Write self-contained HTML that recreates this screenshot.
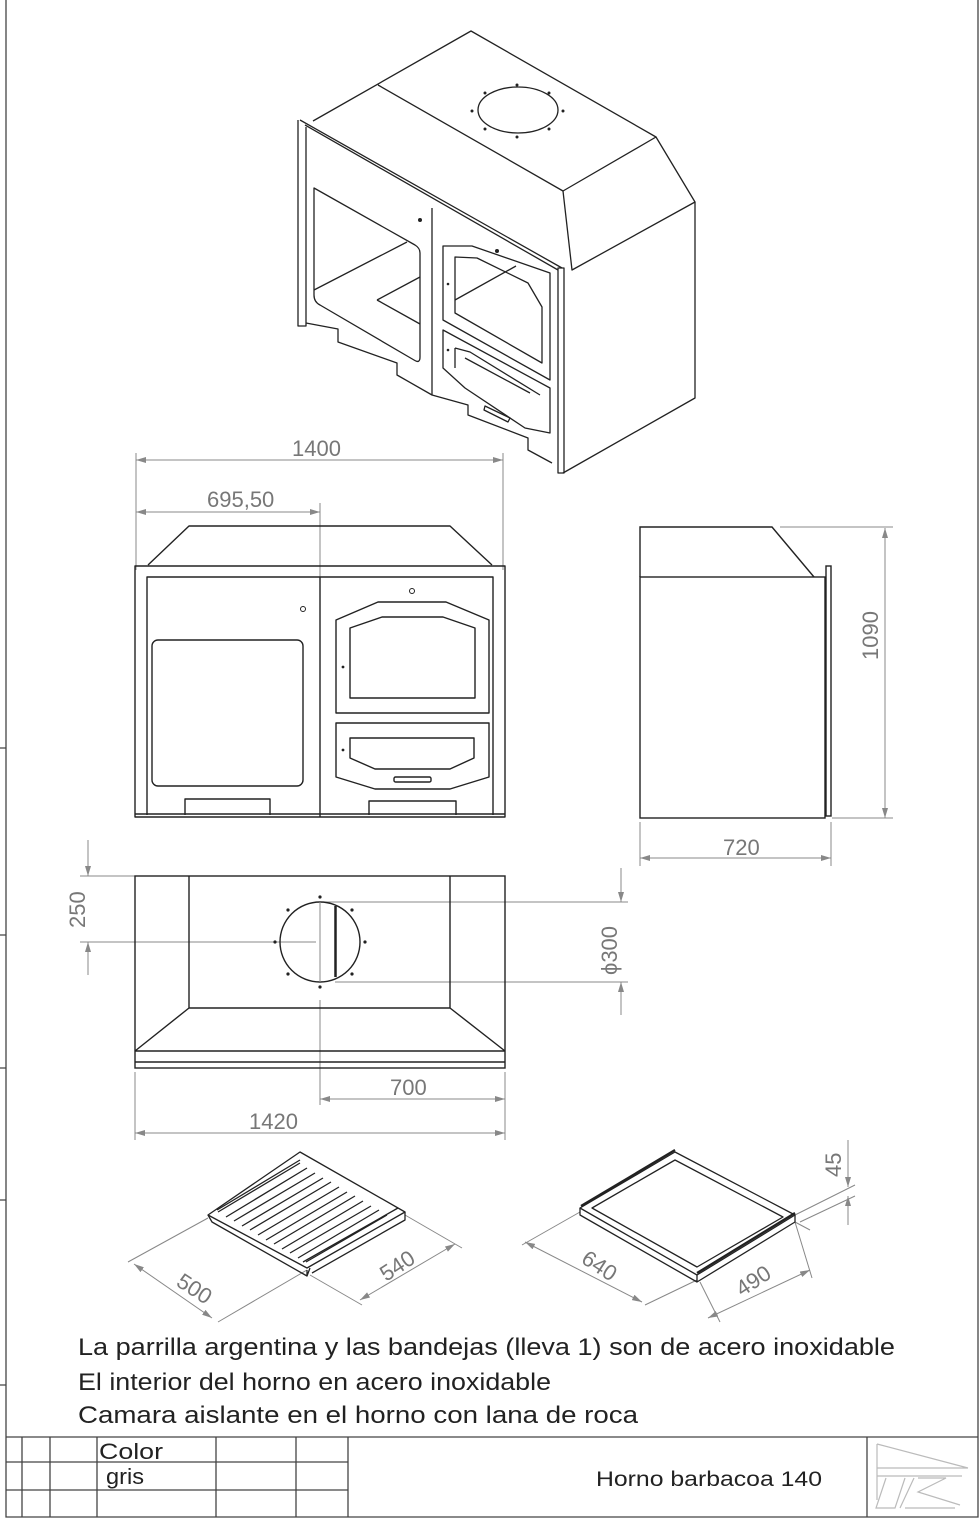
<!DOCTYPE html>
<html><head><meta charset="utf-8"><style>
html,body{margin:0;padding:0;background:#fff}
svg{display:block}
text{font-family:"Liberation Sans",sans-serif}
</style></head><body>
<svg width="979" height="1520" viewBox="0 0 979 1520" xmlns="http://www.w3.org/2000/svg">
<defs>
<marker id="a" viewBox="0 0 10 6" refX="10" refY="3" markerWidth="10" markerHeight="6" orient="auto-start-reverse" markerUnits="userSpaceOnUse"><path d="M0,0L10,3L0,6z" fill="#888"/></marker>
</defs>
<!-- frame -->
<g stroke="#444" fill="none" stroke-width="1.3">
<path d="M6,0V1517H978V0"/>
<path d="M0,748H6M0,935H6M0,1068H6M0,1200H6M0,1385H6"/>
<path d="M6,1437H978M6,1462H348M6,1490H348M22,1437V1517M50,1437V1517M97,1437V1517M216,1437V1517M296,1437V1517M348,1437V1517M867,1437V1517"/>
</g>
<text x="99" y="1459" font-size="22" fill="#222" textLength="64" lengthAdjust="spacingAndGlyphs">Color</text>
<text x="106" y="1484" font-size="22" fill="#222" textLength="38" lengthAdjust="spacingAndGlyphs">gris</text>
<text x="596" y="1486" font-size="21" fill="#222" textLength="226" lengthAdjust="spacingAndGlyphs">Horno barbacoa 140</text>
<g stroke="#bbb" fill="none" stroke-width="1.2">
<path d="M877,1444L968,1468M877,1444V1500M877,1468H968M877,1476H962M886,1478L876,1508H895L905,1478M914,1478L900,1508M918,1478H946L918,1492L960,1505M905,1508H955"/>
</g>
<!-- notes -->
<g font-size="24" fill="#222">
<text x="78" y="1355" textLength="817" lengthAdjust="spacingAndGlyphs">La parrilla argentina y las bandejas (lleva 1) son de acero inoxidable</text>
<text x="78" y="1390" textLength="473" lengthAdjust="spacingAndGlyphs">El interior del horno en acero inoxidable</text>
<text x="78" y="1423" textLength="560" lengthAdjust="spacingAndGlyphs">Camara aislante en el horno con lana de roca</text>
</g>

<!-- ISO view -->
<g stroke="#222" fill="none" stroke-width="1.3" stroke-linejoin="round">
<path d="M313,121L471,31L656,137L563,191L378,85"/>
<path d="M656,137L695,202L572,270L563,191"/>
<path d="M695,202V398L563,473"/>
<path d="M300,120L562,268M305,125L558,270"/>
<path d="M298,120V326H306V127M558,268V473H564V268Z"/>
<path d="M306,323L338,329V342L397,363V375L432,395L468,405V415L528,438V450L552,463"/>
<path d="M432,208V395"/>
<path d="M314,188L415,245Q420,248 420,253V357Q420,364 414,360L320,305Q314,302 314,295Z"/>
<path d="M314,290L407,242M377,300L420,277M377,300L420,324"/>
<path d="M443,246L472,246L550,273V380L443,320Z"/>
<path d="M455,257L477,258L528,283L542,307V363L455,313Z"/>
<path d="M455,300L516,266"/>
<path d="M443,330L550,388V433L525,428L465,388L443,368Z"/>
<path d="M455,348L470,352L540,395M455,348V368M465,358L530,393"/>
<path d="M485,406L510,418L508,422L484,410Z"/>
</g>
<ellipse cx="518" cy="110" rx="40" ry="23" fill="none" stroke="#222" stroke-width="1.3"/>
<g fill="#222">
<circle cx="517" cy="85" r="1.5"/><circle cx="549" cy="93" r="1.5"/><circle cx="563" cy="111" r="1.5"/><circle cx="549" cy="129" r="1.5"/><circle cx="517" cy="137" r="1.5"/><circle cx="485" cy="129" r="1.5"/><circle cx="472" cy="111" r="1.5"/><circle cx="485" cy="93" r="1.5"/>
<circle cx="420" cy="220" r="2"/><circle cx="497" cy="251" r="2"/><circle cx="448" cy="284" r="1.3"/><circle cx="448" cy="350" r="1.3"/>
</g>

<!-- dimensions -->
<g stroke="#888" fill="none" stroke-width="1">
<path d="M136,453V570M503,453V570M320,503V817"/>
<path d="M136,460H503" marker-start="url(#a)" marker-end="url(#a)"/>
<path d="M136,512H320" marker-start="url(#a)" marker-end="url(#a)"/>
<path d="M780,527H893M832,818H893M640,822V866M831,822V866"/>
<path d="M885,528V818" marker-start="url(#a)" marker-end="url(#a)"/>
<path d="M640,858H831" marker-start="url(#a)" marker-end="url(#a)"/>
<path d="M80,876H135M80,942H316M320,902H628M335,982H628M320,1000V1105M135,1072V1140M505,1072V1140"/>
<path d="M88,840V876" marker-end="url(#a)"/><path d="M88,975V942" marker-end="url(#a)"/>
<path d="M621,868V902" marker-end="url(#a)"/><path d="M621,1015V982" marker-end="url(#a)"/>
<path d="M320,1099H505" marker-start="url(#a)" marker-end="url(#a)"/>
<path d="M135,1133H505" marker-start="url(#a)" marker-end="url(#a)"/>
<path d="M208,1218L128,1262M307,1270L218,1322M405,1215L462,1248M310,1275L362,1305"/>
<path d="M134,1264L212,1318" marker-start="url(#a)" marker-end="url(#a)"/>
<path d="M360,1300L455,1244" marker-start="url(#a)" marker-end="url(#a)"/>
<path d="M580,1212L522,1245M697,1280L645,1305M795,1222L810,1230M700,1282L720,1322M795,1222L812,1278"/>
<path d="M525,1242L642,1302" marker-start="url(#a)" marker-end="url(#a)"/>
<path d="M708,1318L810,1270" marker-start="url(#a)" marker-end="url(#a)"/>
<path d="M795,1215L855,1185M800,1222L855,1196"/>
<path d="M848,1140V1187" marker-end="url(#a)"/><path d="M848,1225V1196" marker-end="url(#a)"/>
</g>
<g fill="#777" font-size="22">
<text x="292" y="456">1400</text>
<text x="207" y="507">695,50</text>
<text x="723" y="855">720</text>
<text transform="translate(878,660) rotate(-90)">1090</text>
<text transform="translate(85,928) rotate(-90)">250</text>
<text transform="translate(617,975) rotate(-90)">ϕ300</text>
<text x="390" y="1095">700</text>
<text x="249" y="1129">1420</text>
<text transform="translate(175,1285) rotate(33)">500</text>
<text transform="translate(386,1282) rotate(-33)">540</text>
<text transform="translate(580,1262) rotate(33)">640</text>
<text transform="translate(742,1297) rotate(-33)">490</text>
<text transform="translate(841,1177) rotate(-90)">45</text>
</g>

<!-- front view -->
<g stroke="#222" fill="none" stroke-width="1.4" stroke-linejoin="round">
<path d="M148,565L189,526H450L492,565"/>
<rect x="135" y="566" width="370" height="251"/>
<path d="M147,815V577H493V815M135,814H505"/>
<path d="M320,577V817"/>
<rect x="152" y="640" width="151" height="146" rx="6"/>
<path d="M336,620L378,602H446L489,620V713H336Z"/>
<path d="M350,628L382,617H443L475,628V698H350Z"/>
<path d="M336,723H489V777L450,789H375L336,777Z"/>
<path d="M350,738H474V758L450,769H375L350,758Z"/>
<rect x="394" y="777" width="37" height="5" rx="1.5"/>
<path d="M185,815V799H270V815M369,815V801H456V815"/>
</g>
<g fill="none" stroke="#222" stroke-width="1"><circle cx="303" cy="609" r="2.5"/><circle cx="412" cy="591" r="2.5"/></g>
<circle cx="343" cy="667" r="1.4" fill="#222"/><circle cx="343" cy="750" r="1.4" fill="#222"/>

<!-- side view -->
<g stroke="#222" fill="none" stroke-width="1.4">
<path d="M640,577V527H772L814,577"/>
<rect x="640" y="577" width="185" height="241"/>
<rect x="826" y="566" width="5" height="250"/>
</g>

<!-- top view -->
<g stroke="#222" fill="none" stroke-width="1.4">
<rect x="135" y="876" width="370" height="192"/>
<path d="M189,876V1008H450V876M189,1008L135,1051M450,1008L505,1051M135,1051H505M135,1062H505"/>
<circle cx="320" cy="942" r="40"/>
<path d="M320,902V982" stroke="#888" stroke-width="1"/>
<path d="M335.5,906V977" stroke-width="2.5"/>
</g>
<g fill="#222">
<circle cx="320" cy="897" r="1.6"/><circle cx="352" cy="910" r="1.6"/><circle cx="365" cy="942" r="1.6"/><circle cx="352" cy="974" r="1.6"/><circle cx="320" cy="987" r="1.6"/><circle cx="288" cy="974" r="1.6"/><circle cx="275" cy="942" r="1.6"/><circle cx="288" cy="910" r="1.6"/>
</g>

<!-- grill -->
<g stroke="#222" fill="none" stroke-width="1.3" stroke-linejoin="round">
<path d="M300,1152L405,1212L307,1268L208,1215Z"/>
<path d="M208,1215L212,1222L307,1276L310,1268M307,1276V1270M405,1212V1220L312,1273"/>
<path d="M218,1212L300,1163M226,1217L307,1168M234,1221L315,1173M242,1226L323,1178M250,1230L331,1182M258,1235L339,1187M266,1240L347,1192M274,1244L355,1196M282,1249L363,1201M290,1253L371,1206M298,1258L379,1210M306,1262L387,1215"/>
<path d="M217,1210L300,1160M303,1262L398,1208"/>
</g>
<!-- pan -->
<g stroke="#222" fill="none" stroke-width="1.3" stroke-linejoin="round">
<path d="M675,1152L795,1215L697,1275L580,1208Z"/>
<path d="M675,1160L783,1217L697,1267L592,1208Z"/>
<path d="M580,1208V1215L697,1282L795,1222V1215M697,1275V1282"/>
<path d="M581,1206L675,1150" stroke-width="2.2"/><path d="M697,1273L795,1213" stroke-width="2.2"/>
</g>
</svg>
</body></html>
